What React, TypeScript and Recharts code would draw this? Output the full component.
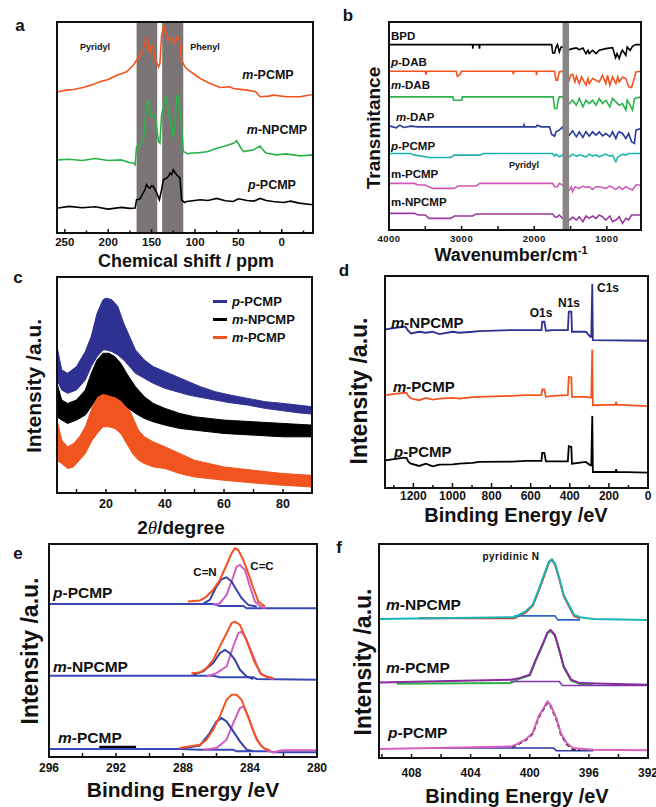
import React from "react";
import { ComposedChart, Line, Area, XAxis, YAxis, ReferenceArea } from "recharts";

type Pt = [number, number];
type Band = [number, number, number];

const FONT = "Arial, 'Liberation Sans', Helvetica, sans-serif";

// ---- a: solid-state NMR (ppm, intensity) ----
const nmrP: Pt[] = [[258,75],[245,80],[230,76],[215,79],[200,72],[185,77],[175,74],[169,75],[167.3,100],[163.5,102],[157.7,130],[155.8,145],[153.8,138],[151.9,135],[150,142],[148,140],[144,120],[141,100],[138.5,130],[136.5,160],[132.7,165],[130.8,170],[128.8,180],[127,175],[125,190],[123,182],[121,175],[117.3,165],[115.4,100],[112,92],[109.6,95],[94,100],[85,98],[75,104],[65,97],[55.8,95],[50,103],[40,98],[32,96],[25,104],[18,98],[10,95],[-2,92],[-10,96],[-20,90],[-36,85]];
const nmrMN: Pt[] = [[258,220],[245,222],[230,218],[215,224],[200,218],[185,220],[176,212],[171,210],[169,205],[167.3,260],[163.5,265],[159.6,280],[155.8,380],[153.8,400],[152,370],[150,350],[146,355],[142,275],[140.4,270],[138.5,355],[136.5,380],[132.7,410],[130.8,360],[128.8,340],[125,290],[123,330],[121,410],[119,415],[115.4,320],[113.5,245],[108,238],[105.8,240],[94,242],[85,245],[75,255],[65,262],[55.8,270],[52,278],[47,255],[44,245],[38,248],[32.7,250],[25,262],[20,245],[17.3,240],[5.8,235],[-5,238],[-21,232],[-36,235]];
const nmrM: Pt[] = [[258,425],[248,430],[240,432],[229,438],[220,445],[209.6,455],[200,462],[190,475],[178.8,485],[171,505],[167.3,520],[163.5,535],[159.6,550],[155.8,590],[153.8,570],[151.9,540],[150,565],[148,555],[146,525],[142,500],[140.4,510],[138.5,595],[135.8,625],[133.8,605],[130.8,580],[127,585],[123,570],[121,590],[118,580],[115.4,520],[111.5,500],[107.7,490],[102,480],[94,465],[82.7,450],[71,438],[60,440],[55.8,435],[40,430],[30,425],[25,410],[15,412],[9.6,415],[-5.8,410],[-21,410],[-36,417]];
const nmrBands: Pt[] = [[167.3, 143.5], [137.8, 113.5]];
const nmrTicks = [250, 225, 200, 175, 150, 125, 100, 75, 50, 25, 0, -25];

// ---- b: FTIR (wavenumber, transmittance) ----
const irBPD: Pt[] = [[4000,557],[2850,557],[2845,545],[2840,557],[2760,557],[2754,545],[2748,557],[1760,557],[1746,532],[1720,532],[1700,550],[1680,557],[1655,535],[1630,550],[1609,550],[1517,542],[1472,545],[1420,547],[1380,542],[1330,547],[1288,530],[1260,540],[1243,530],[1197,540],[1150,530],[1105,540],[1014,545],[922,548],[880,518],[860,530],[830,515],[800,535],[785,540],[739,525],[720,550],[680,540],[647,552],[600,557],[533,557]];
const irPDAB: Pt[] = [[4000,477],[3500,477],[3490,467],[3480,477],[3074,477],[3060,462],[3030,465],[3000,477],[2296,477],[2290,468],[2280,477],[1975,477],[1968,465],[1960,477],[1720,477],[1700,450],[1680,450],[1655,475],[1609,477],[1517,450],[1500,465],[1472,468],[1440,445],[1420,462],[1380,440],[1350,460],[1288,435],[1260,455],[1243,440],[1197,455],[1150,450],[1105,445],[1060,465],[1014,440],[990,465],[960,435],[922,460],[876,440],[850,460],[830,445],[785,460],[739,455],[700,430],[660,428],[630,450],[600,475],[533,477]];
const irMDAB: Pt[] = [[4000,400],[3120,400],[3110,390],[3000,390],[2990,400],[1740,400],[1720,365],[1690,365],[1670,390],[1655,400],[1609,400],[1517,380],[1472,390],[1420,375],[1380,395],[1330,370],[1288,390],[1243,380],[1197,390],[1150,375],[1105,395],[1060,380],[1014,390],[960,370],[922,395],[876,385],[830,375],[785,380],[739,360],[720,390],[680,375],[647,360],[620,395],[533,400]];
const irMDAP: Pt[] = [[4000,313],[3900,307],[3850,315],[3800,308],[3700,312],[3600,310],[3500,310],[2150,310],[2140,316],[2130,310],[1975,310],[1960,315],[1900,310],[1790,310],[1760,288],[1720,282],[1700,295],[1655,300],[1609,310],[1517,285],[1472,298],[1420,280],[1380,295],[1330,278],[1288,296],[1243,282],[1197,295],[1150,285],[1105,295],[1060,283],[1014,290],[960,280],[922,295],[876,275],[850,290],[830,295],[785,290],[739,275],[700,290],[660,265],[620,260],[600,300],[533,305]];
const irPPCMP: Pt[] = [[4000,230],[3700,230],[3650,225],[3550,222],[3450,218],[3300,218],[3150,218],[3100,225],[2750,225],[2700,230],[1746,230],[1720,222],[1700,228],[1655,220],[1609,225],[1517,220],[1472,228],[1420,222],[1380,226],[1288,220],[1243,228],[1197,222],[1150,226],[1105,220],[1014,228],[960,222],[922,225],[876,205],[850,220],[830,222],[785,228],[739,225],[700,230],[600,230],[533,230]];
const irMPCMP: Pt[] = [[4000,140],[3650,140],[3600,135],[3500,135],[3400,125],[3100,125],[3050,132],[2800,132],[2750,140],[1746,140],[1720,130],[1680,130],[1655,140],[1609,135],[1517,120],[1490,130],[1472,115],[1440,130],[1380,125],[1330,132],[1288,128],[1243,130],[1197,122],[1150,130],[1105,130],[1014,125],[960,132],[922,128],[876,122],[830,130],[785,122],[739,130],[700,125],[647,120],[600,135],[533,135]];
const irMNPCMP: Pt[] = [[4000,50],[3650,50],[3600,45],[3500,45],[3450,35],[3150,35],[3100,42],[2850,42],[2800,48],[1746,48],[1720,40],[1690,38],[1655,45],[1609,35],[1517,30],[1472,38],[1420,30],[1380,40],[1330,25],[1288,42],[1243,35],[1197,42],[1150,35],[1105,45],[1060,40],[1014,30],[960,42],[922,25],[876,30],[830,40],[785,20],[739,35],[700,30],[660,45],[600,45],[533,45]];
const irBand: Pt = [1610, 1520];
const irTicks = [4000, 3500, 3000, 2500, 2000, 1500, 1000];

// ---- c: XRD (2theta, low / high of the noisy trace) ----
const xrdP: Band[] = [[3.4,338,438],[5,308,368],[7,298,358],[10,308,378],[13,338,423],[15,378,468],[17,408,538],[19,428,578],[20,428,583],[22,423,578],[24,413,558],[26,398,508],[28,378,468],[30,358,428],[33,343,398],[36,328,378],[40,313,363],[44,303,348],[48,293,333],[52,286,318],[57,278,303],[62,270,293],[68,263,283],[74,253,273],[80,246,268],[85,240,263],[89.8,236,258]];
const xrdMN: Band[] = [[3.4,228,328],[5,218,278],[7,208,268],[10,218,278],[13,233,308],[15,258,358],[17,288,398],[19,298,418],[21,293,418],[23,288,408],[25,278,388],[27,258,358],[30,238,318],[33,223,288],[36,213,268],[40,203,253],[45,193,238],[50,188,228],[55,183,223],[60,178,218],[70,173,213],[80,168,208],[89.8,168,203]];
const xrdM: Band[] = [[3.4,98,218],[5,88,158],[7,73,138],[9,78,148],[11,98,168],[13,118,198],[15,153,248],[17,178,288],[19,198,328],[21,198,333],[23,193,318],[25,178,298],[27,148,268],[29,118,228],[31,98,188],[33,88,168],[36,78,153],[40,73,138],[45,58,118],[50,48,98],[55,43,88],[60,38,78],[70,30,68],[80,23,58],[89.8,18,53]];
const xrdTicks = [10, 20, 30, 40, 50, 60, 70, 80];

// ---- d: XPS survey (binding energy, intensity) ----
const surMN: Pt[] = [[1343,475],[1255,483],[1240,483],[1229,473],[1212,463],[1170,468],[1136,465],[1101,468],[1067,461],[999,468],[965,465],[897,468],[863,470],[693,473],[625,473],[545,473],[541,498],[530,498],[522,471],[488,473],[410,473],[405,528],[392,528],[389,468],[318,468],[295,453],[290,453],[285,611],[282,443],[3,441]];
const surM: Pt[] = [[1343,278],[1255,285],[1235,285],[1225,275],[1212,268],[1170,263],[1136,270],[1101,265],[1067,268],[999,270],[965,268],[897,272],[863,273],[693,276],[625,278],[545,278],[541,295],[530,295],[522,273],[488,276],[410,278],[405,333],[392,331],[389,273],[318,273],[295,271],[290,271],[285,415],[282,248],[165,250],[163,258],[160,250],[3,245]];
const surP: Pt[] = [[1343,83],[1255,90],[1235,90],[1225,78],[1212,73],[1170,66],[1136,73],[1101,65],[1067,70],[999,71],[965,73],[897,75],[863,78],[693,79],[625,81],[545,81],[541,105],[530,105],[522,80],[488,80],[410,80],[405,125],[392,123],[389,73],[318,78],[295,68],[290,68],[285,216],[282,48],[165,48],[163,56],[160,48],[3,46]];
const surTicks = [1300, 1200, 1100, 1000, 900, 800, 700, 600, 500, 400, 300, 200, 100, 0];

// ---- e: C1s high resolution ----
const c1sTopEnv: Pt[] = [[287.7,467],[287,470],[286.6,482],[286.2,502],[285.8,532],[285.4,577],[285.1,612],[284.9,627],[284.7,622],[284.4,592],[284.1,552],[283.8,507],[283.5,467],[283.1,452]];
const c1sTopCN: Pt[] = [[286.8,460],[286.4,472],[286,512],[285.7,534],[285.4,540],[285.1,527],[284.8,502],[284.5,477],[284.1,457],[283.6,452]];
const c1sTopCC: Pt[] = [[286.2,457],[285.8,462],[285.4,487],[285,542],[284.8,572],[284.6,577],[284.3,562],[284,512],[283.7,467],[283.4,454],[283.1,447]];
const c1sTopBase: Pt[] = [[296,460],[286.2,460],[285.8,454],[284.4,454],[284.2,447],[280,447]];
const c1sMidEnv: Pt[] = [[287.5,252],[287,254],[286.6,267],[286.2,292],[285.8,332],[285.4,372],[285.1,402],[284.9,407],[284.6,397],[284.3,362],[284,322],[283.7,282],[283.3,247],[283,242],[282.6,237]];
const c1sMidCN: Pt[] = [[287.4,247],[286.8,257],[286.2,282],[285.8,312],[285.5,322],[285.2,312],[284.9,292],[284.6,262],[284.2,242],[283.8,234]];
const c1sMidCC: Pt[] = [[286.6,242],[286,252],[285.4,272],[285,332],[284.7,372],[284.5,377],[284.2,352],[283.8,302],[283.4,252],[283,240],[282.6,234]];
const c1sMidBase: Pt[] = [[296,244],[286.2,244],[285.8,240],[283.8,240],[283.6,234],[280,232]];
const c1sBotEnv: Pt[] = [[288.2,27],[287,37],[286.6,52],[286.2,82],[285.8,122],[285.4,172],[285.1,187],[284.8,187],[284.5,172],[284.2,132],[283.9,92],[283.6,52],[283.2,27],[282.8,20]];
const c1sBotCN: Pt[] = [[288,27],[287,34],[286.4,72],[286,107],[285.7,117],[285.4,107],[285,77],[284.6,47],[284.2,22],[283.8,17]];
const c1sBotCC: Pt[] = [[286.8,22],[286,27],[285.4,52],[285,102],[284.6,147],[284.4,152],[284.1,122],[283.8,77],[283.4,37],[283,20],[282.6,14],[282.1,20],[280,20]];
const c1sBotBase: Pt[] = [[296,24],[288.2,24],[287,22],[285,22],[284.8,17],[282.8,17],[282.6,14],[280,14]];
const c1sRaw: Pt[] = [[293,30],[290.8,30]];
const c1sTicks = [296, 294, 292, 290, 288, 286, 284, 282, 280];

// ---- f: N1s high resolution ----
const n1sTopFit: Pt[] = [[410.2,418],[401.05,423],[400.3,440],[399.8,460],[399.4,505],[399,555],[398.7,590],[398.5,597],[398.3,585],[398,540],[397.7,490],[397.3,455],[397,430],[396.6,423],[395.7,418],[392,415]];
const n1sTopRaw: Pt[] = [[407.5,420],[401.05,420],[400.3,437],[399.8,458],[399.4,502],[399,550],[398.7,588],[398.5,595],[398.3,582],[398,537],[397.7,487],[397.3,452],[397,427],[396.6,420]];
const n1sTopBase: Pt[] = [[401.05,427],[398.3,427],[398.1,415],[396.6,415]];
const n1sMidFit: Pt[] = [[410.2,227],[401.3,235],[400.7,240],[400,250],[399.6,295],[399.1,345],[398.8,377],[398.6,385],[398.3,370],[398,325],[397.7,275],[397.2,235],[396.6,225],[394.9,223],[392,220]];
const n1sMidRaw: Pt[] = [[409,223],[401.3,225],[400.7,238],[400,248],[399.6,292],[399.1,342],[398.8,375],[398.6,382],[398.3,368],[398,322],[397.7,272],[397.2,232],[396.6,222],[395.7,222]];
const n1sMidBase: Pt[] = [[401.3,230],[398,230],[397.8,218],[392,218]];
const n1sBotFit: Pt[] = [[410.2,27],[406.5,30],[401.2,35],[400.8,43],[400.3,55],[399.8,75],[399.4,125],[399,155],[398.8,170],[398.6,160],[398.2,120],[397.9,75],[397.5,45],[397.1,30],[395.7,25],[392,23]];
const n1sBotRaw: Pt[] = [[401.2,33],[400.8,41],[400.3,53],[399.8,73],[399.4,122],[399,152],[398.8,166],[398.6,157],[398.2,117],[397.9,72],[397.5,42],[397.1,27],[396.6,24]];
const n1sBotBase: Pt[] = [[406.5,30],[398.4,30],[398.2,22],[395.7,22]];
const n1sTicks = [410, 408, 406, 404, 402, 400, 398, 396, 394, 392];

const xy = (a: Pt[]) => a.map(([x, v]) => ({ x, v }));
const band = (a: Band[]) => a.map(([x, lo, hi]) => ({ x, r: [lo, hi] }));

function ln(data: Pt[], color: string, w = 1.6, dash?: string) {
  return (
    <Line data={xy(data)} dataKey="v" type="linear" dot={false} stroke={color} strokeWidth={w}
      strokeDasharray={dash} isAnimationActive={false} />
  );
}

// one framed panel; ticks point inwards from the bottom edge
function Panel({ box, xd, yd, ticks, lab, rev = true, major = 4, minor = 2.5, labDy = 11, labSize = 11, labSpacing = 0, children }: any) {
  const p = 14, pb = 36;
  const w = box.r - box.l + p * 2;
  const h = box.b - box.t + p + pb;
  const tick = (t: any) => {
    const v = t.payload.value;
    const show = lab(v);
    return (
      <g>
        <line x1={t.x} x2={t.x} y1={t.y} y2={t.y - (show ? major : minor)} stroke="#111" strokeWidth={1.5} />
        {show && (
          <text x={t.x} y={t.y + labDy} textAnchor="middle" dominantBaseline="middle" fontFamily={FONT}
            fontWeight={700} fontSize={labSize} letterSpacing={labSpacing} fill="#111">{v}</text>
        )}
      </g>
    );
  };
  return (
    <div style={{ position: "absolute", left: box.l - p, top: box.t - p }}>
      <ComposedChart width={w} height={h} margin={{ left: p, right: p, top: p, bottom: pb - 1 }}>
        <XAxis type="number" dataKey="x" domain={xd} reversed={rev} allowDataOverflow ticks={ticks} interval={0}
          tickSize={0} tickMargin={0} axisLine={false} tickLine={false} height={1} tick={tick} />
        <YAxis type="number" domain={yd} hide allowDataOverflow width={0} />
        {children}
        <ReferenceArea x1={xd[0]} x2={xd[1]} y1={yd[0]} y2={yd[1]} fill="none" stroke="#111" strokeWidth={2}
          ifOverflow="visible" zIndex={2000} />
      </ComposedChart>
    </div>
  );
}

function Txt({ x, y, s = 12, a = "c", rot = 0, children, style }: any) {
  const tx = a === "c" ? "-50%" : "0";
  return (
    <div style={{
      position: "absolute", left: x, top: y, fontFamily: FONT, fontWeight: 700, fontSize: s, lineHeight: 1,
      whiteSpace: "nowrap", color: "#111", transform: `translate(${tx}, -50%) rotate(${rot}deg)`, ...style,
    }}>{children}</div>
  );
}

const OR = "#f2541f", GR = "#2bb34a", BL = "#2e3192";

export default function App() {
  return (
    <div style={{ position: "absolute", left: 0, top: 0, width: 656, height: 807, overflow: "hidden", background: "#fff" }}>
      {/* a */}
      <Panel box={{ l: 57, t: 22, r: 313, b: 233 }} xd={[-36, 259]} yd={[0, 635]} ticks={nmrTicks}
        lab={(v: number) => v % 50 === 0} labDy={10} labSize={11.5}>
        {nmrBands.map(([x1, x2], i) => (
          <ReferenceArea key={i} x1={x1} x2={x2} y1={0} y2={635} fill="#7b7575" fillOpacity={1} stroke="none" />
        ))}
        {ln(nmrM, OR)}
        {ln(nmrMN, GR)}
        {ln(nmrP, "#000")}
      </Panel>
      <Txt x={20} y={25} s={17}>a</Txt>
      <Txt x={95} y={47} s={9}>Pyridyl</Txt>
      <Txt x={205} y={47} s={9}>Phenyl</Txt>
      <Txt x={268} y={75} s={12.5}><i>m</i>-PCMP</Txt>
      <Txt x={277} y={130} s={12.5}><i>m</i>-NPCMP</Txt>
      <Txt x={272} y={185} s={12.5}><i>p</i>-PCMP</Txt>
      <Txt x={186} y={261} s={18}>Chemical shift / ppm</Txt>

      {/* b */}
      <Panel box={{ l: 389, t: 22, r: 641, b: 230 }} xd={[530, 4000]} yd={[0, 625]} ticks={irTicks}
        lab={(v: number) => v % 1000 === 0} minor={4} labDy={9} labSize={9.5} labSpacing={0.5}>
        {ln(irMNPCMP, "#9b3a9e")}
        {ln(irMPCMP, "#cc58b8")}
        {ln(irPPCMP, "#1fb3ad")}
        {ln(irMDAP, "#2b3a9a")}
        {ln(irMDAB, GR)}
        {ln(irPDAB, OR)}
        {ln(irBPD, "#000")}
        <ReferenceArea x1={irBand[0]} x2={irBand[1]} y1={0} y2={625} fill="#8a8585" fillOpacity={1} stroke="none"
          zIndex={1500} />
      </Panel>
      <Txt x={348} y={15} s={17}>b</Txt>
      <Txt x={391} y={37} s={11.5} a="l">BPD</Txt>
      <Txt x={391} y={63} s={11.5} a="l"><i>p</i>-DAB</Txt>
      <Txt x={391} y={86} s={11.5} a="l"><i>m</i>-DAB</Txt>
      <Txt x={396} y={118} s={11.5} a="l"><i>m</i>-DAP</Txt>
      <Txt x={391} y={147} s={11.5} a="l"><i>p</i>-PCMP</Txt>
      <Txt x={391} y={175} s={11.5} a="l">m-PCMP</Txt>
      <Txt x={391} y={203} s={11.5} a="l">m-NPCMP</Txt>
      <Txt x={524} y={165} s={9}>Pyridyl</Txt>
      <Txt x={511} y={255} s={18}>Wavenumber/cm<span style={{ fontSize: 11, position: "relative", top: -7 }}>-1</span></Txt>
      <Txt x={373} y={128} s={19} rot={-90}>Transmitance</Txt>

      {/* c */}
      <Panel box={{ l: 57, t: 277, r: 312, b: 493 }} xd={[3.4, 89.8]} yd={[0, 646]} rev={false} ticks={xrdTicks}
        lab={(v: number) => v % 20 === 0} minor={4} labDy={12} labSize={12.5}>
        {[[xrdM, OR], [xrdMN, "#000"], [xrdP, BL]].map(([d, c]: any, i) => (
          <Area key={i} data={band(d)} dataKey="r" type="linear" stroke={c} strokeWidth={1} fill={c}
            fillOpacity={1} isAnimationActive={false} />
        ))}
      </Panel>
      <Txt x={18} y={277} s={17}>c</Txt>
      {[[BL, 301, <><i>p</i>-PCMP</>], ["#000", 319, <><i>m</i>-NPCMP</>], [OR, 337, <><i>m</i>-PCMP</>]].map(
        ([c, y, t]: any, i) => (
          <React.Fragment key={i}>
            <div style={{ position: "absolute", left: 213, top: y - 1.5, width: 14, height: 3, background: c }} />
            <Txt x={232} y={y} s={13} a="l">{t}</Txt>
          </React.Fragment>
        ))}
      <Txt x={181} y={527} s={19}>2<i style={{ fontFamily: "'Liberation Serif', serif", fontWeight: 400 }}>θ</i>/degree</Txt>
      <Txt x={33} y={386} s={21} rot={-90}>Intensity /a.u.</Txt>

      {/* d */}
      <Panel box={{ l: 385, t: 276, r: 648, b: 488 }} xd={[0, 1345]} yd={[0, 635]} ticks={surTicks}
        lab={(v: number) => v % 200 === 0} major={5} minor={3} labDy={9} labSize={12}>
        {ln(surP, "#000", 1.8)}
        {ln(surM, OR, 1.8)}
        {ln(surMN, BL, 1.8)}
      </Panel>
      <Txt x={344} y={270} s={17}>d</Txt>
      <Txt x={391} y={322} s={15} a="l"><i>m</i>-NPCMP</Txt>
      <Txt x={393} y={386} s={15} a="l"><i>m</i>-PCMP</Txt>
      <Txt x={394} y={451} s={15} a="l"><i>p</i>-PCMP</Txt>
      <Txt x={541} y={313} s={12}>O1s</Txt>
      <Txt x={569} y={303} s={12}>N1s</Txt>
      <Txt x={608} y={288} s={12}>C1s</Txt>
      <Txt x={516} y={515} s={20}>Binding Energy /eV</Txt>
      <Txt x={359} y={391} s={23} rot={-90}>Intensity /a.u.</Txt>

      {/* e */}
      <Panel box={{ l: 49, t: 544, r: 317, b: 757 }} xd={[280, 296]} yd={[0, 640]} ticks={c1sTicks}
        lab={(v: number) => v % 4 === 0} minor={4} labDy={12} labSize={12}>
        {ln(c1sRaw, "#000", 2.5)}
        {ln(c1sTopBase, "#3a48b5", 2)}
        {ln(c1sMidBase, "#3a48b5", 2)}
        {ln(c1sBotBase, "#3a48b5", 2)}
        {ln(c1sTopCC, "#d35cc0", 2)}
        {ln(c1sMidCC, "#d35cc0", 2)}
        {ln(c1sBotCC, "#d35cc0", 2)}
        {ln(c1sTopCN, "#3440a8", 2)}
        {ln(c1sMidCN, "#3440a8", 2)}
        {ln(c1sBotCN, "#3440a8", 2)}
        {ln(c1sTopEnv, OR, 2)}
        {ln(c1sMidEnv, OR, 2)}
        {ln(c1sBotEnv, OR, 2)}
      </Panel>
      <Txt x={18} y={553} s={17}>e</Txt>
      <Txt x={53} y={593} s={15.5} a="l"><i>p</i>-PCMP</Txt>
      <Txt x={53} y={667} s={15.5} a="l"><i>m</i>-NPCMP</Txt>
      <Txt x={58} y={738} s={15.5} a="l"><i>m</i>-PCMP</Txt>
      <Txt x={205} y={573} s={11.5}>C=N</Txt>
      <Txt x={262} y={567} s={11.5}>C=C</Txt>
      <Txt x={183} y={789} s={21}>Binding Energy /eV</Txt>
      <Txt x={30} y={651} s={23} rot={-90}>Intensity /a.u.</Txt>

      {/* f */}
      <Panel box={{ l: 379, t: 544, r: 648, b: 758 }} xd={[392, 410.2]} yd={[0, 643]} ticks={n1sTicks}
        lab={(v: number) => v % 4 === 0} minor={4} labDy={16} labSize={12}>
        {ln(n1sTopRaw, "#d42a1e", 2)}
        {ln(n1sTopBase, "#2f64c8", 1.6)}
        {ln(n1sTopFit, "#1bb5b5", 2)}
        {ln(n1sMidRaw, GR, 2)}
        {ln(n1sMidBase, "#7a3aa8", 1.6)}
        {ln(n1sMidFit, "#8a2a9a", 2)}
        {ln(n1sBotBase, "#2e3aa0", 1.6)}
        {ln(n1sBotRaw, "#000", 2, "4 3")}
        {ln(n1sBotFit, "#d75fbf", 2)}
      </Panel>
      <Txt x={339} y={547} s={17}>f</Txt>
      <Txt x={511} y={557} s={10} style={{ letterSpacing: 0.5 }}>pyridinic N</Txt>
      <Txt x={386} y={605} s={15.5} a="l"><i>m</i>-NPCMP</Txt>
      <Txt x={386} y={668} s={15.5} a="l"><i>m</i>-PCMP</Txt>
      <Txt x={388} y={733} s={15.5} a="l"><i>p</i>-PCMP</Txt>
      <Txt x={517} y={796} s={20}>Binding Energy /eV</Txt>
      <Txt x={363} y={662} s={23} rot={-90}>Intensity /a.u.</Txt>
    </div>
  );
}
